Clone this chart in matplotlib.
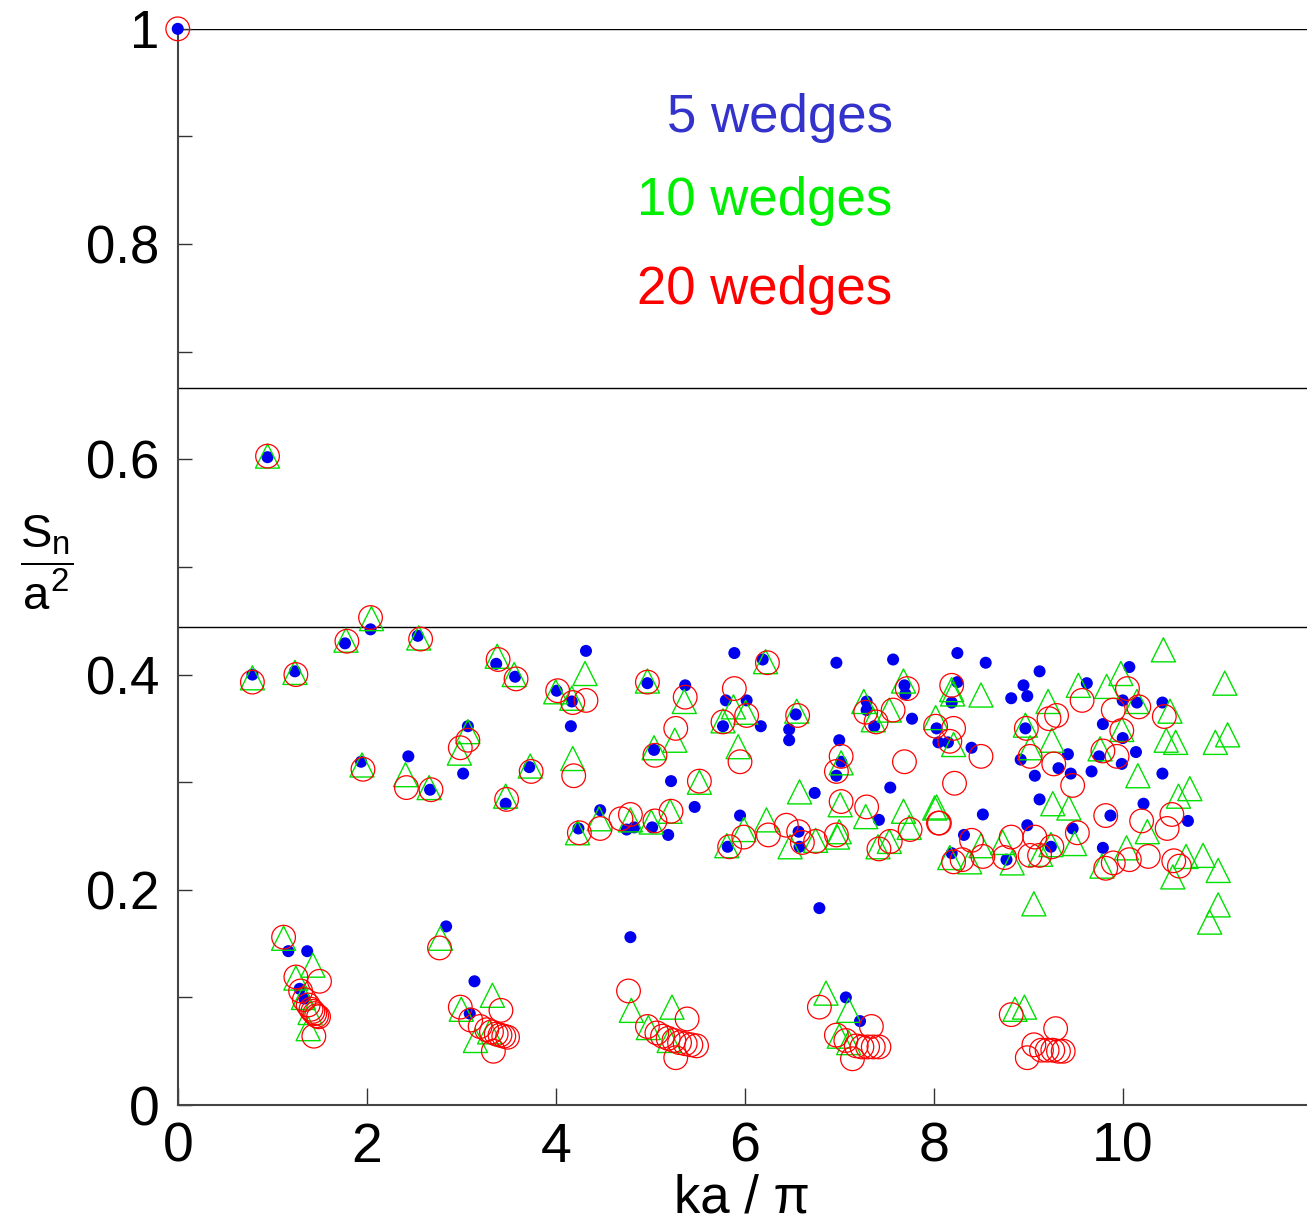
import matplotlib
matplotlib.use("Agg")
import matplotlib.pyplot as plt
import numpy as np

plt.rcParams["font.family"] = ["Liberation Sans", "DejaVu Sans"]
plt.rcParams["mathtext.fontset"] = "custom"
plt.rcParams["mathtext.rm"] = "Liberation Sans"
plt.rcParams["mathtext.it"] = "Liberation Sans"

# ── Data: (ka/pi, S_n/a^2) ─────────────────────────────────────────────
W5 = [
    (0.0, 1.0), (0.95, 0.602), (0.79, 0.400), (1.24, 0.403), (1.77, 0.429),
    (2.04, 0.442), (2.54, 0.436), (3.37, 0.410), (3.57, 0.398), (4.01, 0.385),
    (4.17, 0.375), (4.16, 0.352), (3.07, 0.352), (3.02, 0.308), (1.94, 0.319),
    (2.44, 0.324), (2.67, 0.293), (3.72, 0.314), (3.47, 0.280), (1.17, 0.143),
    (1.37, 0.143), (1.29, 0.108), (1.34, 0.099), (2.84, 0.166), (3.14, 0.115),
    (3.09, 0.085), (4.32, 0.422), (4.97, 0.392), (5.37, 0.390), (5.04, 0.330),
    (5.22, 0.301), (5.47, 0.277), (5.89, 0.420), (6.19, 0.414), (5.80, 0.376),
    (6.02, 0.376), (5.77, 0.352), (6.17, 0.352), (6.47, 0.349), (6.47, 0.339),
    (6.54, 0.363), (6.97, 0.411), (7.57, 0.414), (7.69, 0.390), (7.70, 0.382),
    (7.29, 0.375), (7.29, 0.367), (7.37, 0.352), (7.77, 0.359), (7.00, 0.339),
    (7.02, 0.319), (6.97, 0.306), (6.74, 0.290), (7.54, 0.295), (7.42, 0.265),
    (4.47, 0.274), (4.24, 0.257), (4.75, 0.256), (4.83, 0.258), (5.02, 0.258),
    (5.19, 0.251), (5.95, 0.269), (5.82, 0.240), (6.57, 0.254), (6.58, 0.240),
    (4.79, 0.156), (6.79, 0.183), (7.07, 0.100), (7.22, 0.078), (8.25, 0.420),
    (8.55, 0.411), (9.12, 0.403), (10.07, 0.407), (8.25, 0.393), (8.19, 0.374),
    (8.95, 0.390), (8.99, 0.380), (8.82, 0.378), (9.62, 0.392), (10.00, 0.376),
    (10.15, 0.374), (10.42, 0.374), (8.03, 0.350), (8.05, 0.337), (8.15, 0.337),
    (8.97, 0.350), (8.40, 0.332), (8.92, 0.321), (9.32, 0.313), (9.42, 0.326),
    (9.45, 0.308), (9.67, 0.310), (9.07, 0.306), (9.79, 0.354), (10.00, 0.341),
    (9.75, 0.324), (9.99, 0.317), (10.14, 0.328), (10.42, 0.308), (9.12, 0.284),
    (8.52, 0.270), (10.22, 0.280), (9.87, 0.269), (10.69, 0.264), (8.99, 0.260),
    (9.47, 0.257), (8.32, 0.251), (9.24, 0.240), (8.19, 0.234), (8.77, 0.228),
    (9.79, 0.239),
]

W10 = [
    (0.95, 0.603), (0.79, 0.397), (1.24, 0.402), (1.78, 0.432), (2.05, 0.452),
    (2.55, 0.434), (3.38, 0.417), (3.56, 0.400), (4.00, 0.384), (4.17, 0.378),
    (3.07, 0.347), (2.98, 0.327), (1.95, 0.316), (2.41, 0.307), (2.66, 0.295),
    (3.73, 0.315), (3.47, 0.287), (1.12, 0.155), (1.43, 0.130), (1.25, 0.118),
    (1.33, 0.100), (1.40, 0.086), (1.38, 0.071), (2.78, 0.155), (3.33, 0.102),
    (3.00, 0.089), (3.15, 0.060), (3.30, 0.068), (4.31, 0.401), (4.18, 0.322),
    (4.97, 0.394), (5.36, 0.375), (5.26, 0.339), (5.04, 0.332), (5.52, 0.300),
    (6.22, 0.412), (5.88, 0.370), (5.77, 0.357), (6.01, 0.365), (5.93, 0.333),
    (6.55, 0.366), (7.68, 0.394), (7.26, 0.375), (7.53, 0.367), (7.36, 0.358),
    (7.02, 0.318), (6.58, 0.291), (8.03, 0.277), (7.01, 0.279), (7.28, 0.268),
    (7.68, 0.273), (4.23, 0.253), (4.46, 0.266), (4.79, 0.265), (5.01, 0.263),
    (5.21, 0.273), (5.99, 0.256), (6.23, 0.265), (5.81, 0.241), (6.48, 0.240),
    (6.75, 0.246), (7.00, 0.254), (6.98, 0.249), (7.41, 0.240), (7.53, 0.245),
    (7.74, 0.258), (4.80, 0.088), (5.23, 0.091), (4.98, 0.072), (5.20, 0.060),
    (6.86, 0.104), (7.10, 0.088), (7.00, 0.064), (7.10, 0.058), (10.43, 0.423),
    (11.08, 0.392), (9.98, 0.401), (8.19, 0.386), (8.20, 0.382), (8.50, 0.381),
    (9.21, 0.375), (9.53, 0.390), (9.83, 0.389), (10.15, 0.375), (10.50, 0.366),
    (8.02, 0.360), (8.21, 0.335), (8.97, 0.353), (9.25, 0.339), (9.02, 0.332),
    (9.99, 0.349), (9.76, 0.331), (10.46, 0.339), (10.56, 0.337), (10.98, 0.337),
    (11.11, 0.344), (10.16, 0.306), (10.71, 0.294), (10.59, 0.287), (9.26, 0.280),
    (9.43, 0.276), (10.26, 0.254), (8.01, 0.276), (9.49, 0.243), (8.50, 0.241),
    (8.17, 0.230), (8.38, 0.226), (8.83, 0.225), (8.73, 0.244), (9.13, 0.233),
    (9.24, 0.242), (9.78, 0.222), (10.04, 0.239), (10.67, 0.231), (10.85, 0.232),
    (10.53, 0.212), (11.01, 0.218), (9.06, 0.187), (11.01, 0.186), (10.92, 0.170),
    (8.86, 0.089), (8.96, 0.091),
]

W20 = [
    (0.0, 1.0), (0.95, 0.603), (0.79, 0.393), (1.25, 0.400), (1.79, 0.431),
    (2.04, 0.453), (2.57, 0.433), (3.39, 0.414), (3.58, 0.396), (4.02, 0.385),
    (4.18, 0.374), (4.32, 0.376), (3.07, 0.339), (2.99, 0.332), (1.96, 0.312),
    (2.42, 0.295), (2.68, 0.293), (3.74, 0.310), (3.48, 0.284), (4.19, 0.306),
    (1.12, 0.156), (1.25, 0.119), (1.50, 0.115), (1.30, 0.106), (1.34, 0.098),
    (1.38, 0.093), (1.41, 0.089), (1.43, 0.087), (1.45, 0.085), (1.47, 0.083),
    (1.49, 0.082), (1.44, 0.064), (2.77, 0.146), (3.42, 0.088), (2.99, 0.091),
    (3.10, 0.079), (3.20, 0.073), (3.27, 0.070), (3.32, 0.068), (3.37, 0.066),
    (3.41, 0.065), (3.45, 0.064), (3.49, 0.063), (3.34, 0.050), (4.97, 0.393),
    (5.37, 0.379), (5.27, 0.350), (5.05, 0.325), (5.52, 0.301), (6.24, 0.411),
    (5.89, 0.387), (5.77, 0.356), (6.02, 0.362), (5.95, 0.319), (6.56, 0.362),
    (7.72, 0.387), (7.28, 0.365), (7.57, 0.367), (7.39, 0.356), (7.02, 0.324),
    (6.97, 0.310), (7.69, 0.319), (7.02, 0.282), (7.29, 0.277), (8.06, 0.262),
    (4.25, 0.253), (4.47, 0.257), (4.69, 0.266), (4.79, 0.270), (5.05, 0.264),
    (5.22, 0.273), (5.99, 0.249), (6.25, 0.251), (6.44, 0.260), (5.84, 0.240),
    (6.57, 0.254), (6.61, 0.244), (6.75, 0.245), (6.97, 0.251), (7.42, 0.238),
    (7.54, 0.245), (7.75, 0.256), (4.77, 0.106), (5.39, 0.080), (4.97, 0.073),
    (5.07, 0.067), (5.13, 0.064), (5.19, 0.062), (5.25, 0.060), (5.31, 0.058),
    (5.37, 0.057), (5.43, 0.056), (5.49, 0.055), (5.27, 0.044), (6.79, 0.091),
    (7.34, 0.073), (6.97, 0.065), (7.07, 0.060), (7.18, 0.055), (7.24, 0.054),
    (7.30, 0.054), (7.36, 0.054), (7.42, 0.054), (7.14, 0.043), (8.19, 0.390),
    (9.57, 0.376), (10.05, 0.387), (9.90, 0.367), (10.17, 0.370), (10.44, 0.361),
    (9.22, 0.359), (9.30, 0.362), (8.02, 0.352), (8.21, 0.350), (8.17, 0.338),
    (8.98, 0.350), (9.02, 0.324), (8.50, 0.324), (9.27, 0.317), (9.47, 0.297),
    (9.99, 0.348), (9.79, 0.329), (9.94, 0.324), (8.22, 0.299), (9.82, 0.269),
    (10.20, 0.264), (10.52, 0.270), (10.47, 0.257), (8.05, 0.262), (9.52, 0.253),
    (8.40, 0.246), (8.82, 0.249), (9.07, 0.249), (9.25, 0.240), (8.21, 0.226),
    (8.30, 0.228), (8.52, 0.231), (8.75, 0.230), (9.02, 0.232), (9.12, 0.232),
    (9.82, 0.220), (9.90, 0.225), (10.07, 0.228), (10.27, 0.231), (10.54, 0.227),
    (10.60, 0.222), (8.82, 0.084), (9.29, 0.071), (9.06, 0.056), (8.99, 0.044),
    (9.14, 0.051), (9.20, 0.051), (9.26, 0.051), (9.32, 0.050), (9.37, 0.050),
]

LIMITS = [1.0, 2 / 3, 4 / 9]           # horizontal reference levels
X_TICKS = [0, 2, 4, 6, 8, 10]
Y_TICKS = [0, 0.2, 0.4, 0.6, 0.8, 1.0]
Y_TICK_LABELS = ["0", "0.2", "0.4", "0.6", "0.8", "1"]
Y_MINOR = [0.1, 0.3, 0.5, 0.7, 0.9]

NARROW = ["Liberation Sans Narrow", "Liberation Sans", "DejaVu Sans"]

fig = plt.figure(figsize=(13.07, 12.22), dpi=100)
ax = fig.add_axes([0.136, 0.0957, 0.864, 0.8807])

for lvl in LIMITS:
    ax.axhline(lvl, color="black", linewidth=1.0, zorder=1)

x5, y5 = np.array(W5).T
x10, y10 = np.array(W10).T
x20, y20 = np.array(W20).T

ax.scatter(x5, y5, s=75, color="#0000ee", edgecolors="none", zorder=3, clip_on=False)
ax.scatter(x10, y10, s=300, marker="^", facecolors="none", edgecolors="#00e000",
           linewidths=1.0, zorder=4, clip_on=False)
ax.scatter(x20, y20, s=290, marker="o", facecolors="none", edgecolors="#ff0000",
           linewidths=0.9, zorder=5, clip_on=False)

ax.set_xlim(0, 11.95)
ax.set_ylim(0, 1)
ax.set_xticks(X_TICKS)
ax.set_xticklabels([str(t) for t in X_TICKS])
ax.set_yticks(Y_TICKS)
ax.set_yticklabels(Y_TICK_LABELS)
ax.set_yticks(Y_MINOR, minor=True)

for lab in ax.get_xticklabels():
    lab.set_family(NARROW)
    lab.set_fontsize(40)
for lab in ax.get_yticklabels():
    lab.set_fontsize(38)
ax.get_yticklabels()[0].set_family(NARROW)
ax.get_yticklabels()[0].set_fontsize(40)

ax.tick_params(axis="x", direction="in", length=12, width=1.0, pad=12, color="#333333")
ax.tick_params(axis="y", which="both", direction="in", length=10, width=1.0, pad=13,
               color="#333333")

for side in ["top", "right"]:
    ax.spines[side].set_visible(False)
for side in ["left", "bottom"]:
    ax.spines[side].set_color("#444444")
    ax.spines[side].set_linewidth(1.5)

ax.set_xlabel("ka / \u03c0", fontsize=38, family=NARROW, labelpad=0)
fig.text(0.036, 0.539, r"$\dfrac{S_n}{a^2}$", fontsize=34, ha="center", va="center")

ax.text(0.633, 0.917, "5 wedges", transform=ax.transAxes, ha="right", va="center",
        fontsize=38, color="#3333cc")
ax.text(0.633, 0.840, "10 wedges", transform=ax.transAxes, ha="right", va="center",
        fontsize=38, color="#00ee00")
ax.text(0.633, 0.757, "20 wedges", transform=ax.transAxes, ha="right", va="center",
        fontsize=38, color="#ff0000")

fig.savefig("out.png", dpi=100)
